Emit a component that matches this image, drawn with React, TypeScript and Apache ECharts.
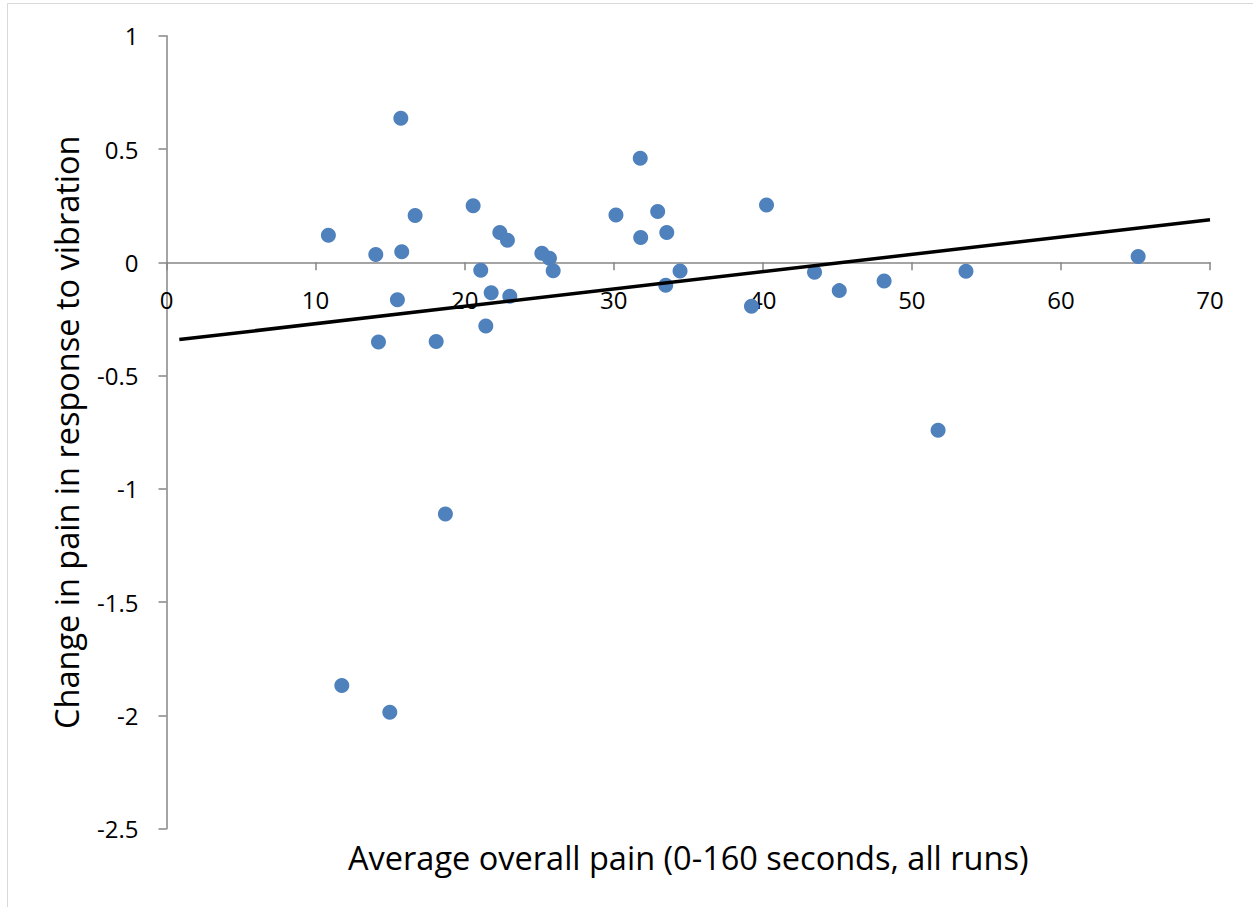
import { useEffect, useRef } from "react";
import * as echarts from "echarts";

// Average overall pain (x) and change in pain in response to vibration (y)
const painX = [
  15.72, 10.86, 14.04, 15.78, 16.68, 20.57, 22.36, 22.87, 25.18, 25.69, 25.94, 21.08,
  15.49, 21.78, 23.03, 14.22, 18.09, 21.42, 18.71, 11.76, 14.98, 31.78, 30.15, 32.95,
  31.81, 33.56, 34.45, 33.49, 40.25, 39.24, 43.47, 45.13, 48.14, 53.63, 51.76, 65.18,
];
const changeY = [
  0.636, 0.119, 0.034, 0.047, 0.207, 0.25, 0.132, 0.097, 0.04, 0.018, -0.037, -0.035,
  -0.165, -0.134, -0.15, -0.352, -0.349, -0.281, -1.111, -1.868, -1.986, 0.459, 0.209, 0.224,
  0.109, 0.132, -0.038, -0.101, 0.253, -0.194, -0.044, -0.125, -0.082, -0.04, -0.741, 0.026,
];
// Linear trendline end points
const trendX = [0.86, 70];
const trendY = [-0.341, 0.188];

const xTitle = "Average overall pain (0-160 seconds, all runs)";
const yTitle = "Change in pain in response to vibration";

export default function App() {
  const ref = useRef<HTMLDivElement>(null);
  useEffect(() => {
    const chart = echarts.init(ref.current!, null, { renderer: "svg" });
    const font = "'Open Sans', sans-serif";
    const axisColor = "#868686";
    const yMin = -2.5;
    const yMax = 1;
    const gridTop = 35.7;
    const gridBottomPx = 828.8;
    // pixel row of y = 0, obtained from the y scale
    const zeroPx = gridTop + ((yMax - 0) / (yMax - yMin)) * (gridBottomPx - gridTop);
    chart.setOption({
      animation: false,
      backgroundColor: "#ffffff",
      grid: [
        {
          left: 166.5,
          right: 43,
          top: gridTop,
          height: gridBottomPx - gridTop,
          containLabel: false,
          outerBoundsMode: "none",
        },
        {
          left: 166.5,
          right: 43,
          top: gridTop,
          height: zeroPx - gridTop,
          containLabel: false,
          outerBoundsMode: "none",
        },
      ],
      xAxis: [
        {
          type: "value",
          gridIndex: 0,
          min: 0,
          max: 70,
          interval: 10,
          name: xTitle,
          nameLocation: "middle",
          nameGap: 12,
          nameTextStyle: { fontFamily: font, fontSize: 32.5, color: "#000" },
          axisLine: { show: false, onZero: false },
          axisTick: { show: false },
          axisLabel: { show: false },
          splitLine: { show: false },
        },
        {
          type: "value",
          gridIndex: 1,
          position: "bottom",
          min: 0,
          max: 70,
          interval: 10,
          axisLine: { show: true, onZero: false, lineStyle: { color: axisColor, width: 1.5 } },
          axisTick: { show: true, length: 8, lineStyle: { color: axisColor, width: 1.5 } },
          axisLabel: { margin: 25, fontFamily: font, fontSize: 24, color: "#000" },
          splitLine: { show: false },
        },
      ],
      yAxis: [
        {
          type: "value",
          gridIndex: 0,
          min: yMin,
          max: yMax,
          interval: 0.5,
          name: yTitle,
          nameLocation: "middle",
          nameGap: 84,
          nameTextStyle: { fontFamily: font, fontSize: 32.5, color: "#000" },
          axisLine: { show: true, onZero: false, lineStyle: { color: axisColor, width: 1.5 } },
          axisTick: { show: true, length: 8, lineStyle: { color: axisColor, width: 1.5 } },
          axisLabel: { margin: 28, fontFamily: font, fontSize: 24, color: "#000" },
          splitLine: { show: false },
        },
        {
          type: "value",
          gridIndex: 1,
          min: 0,
          max: yMax,
          show: false,
        },
      ],
      graphic: [
        {
          type: "rect",
          shape: { x: 7.5, y: 3.5, width: 1400, height: 1000 },
          style: { fill: "none", stroke: "#d9d9d9", lineWidth: 1 },
          silent: true,
        },
      ],
      series: [
        {
          type: "scatter",
          xAxisIndex: 0,
          yAxisIndex: 0,
          data: painX.map((x, i) => [x, changeY[i]]),
          symbol: "circle",
          symbolSize: 15,
          itemStyle: { color: "#4F81BD", opacity: 1 },
          z: 2,
        },
        {
          type: "line",
          xAxisIndex: 0,
          yAxisIndex: 0,
          data: trendX.map((x, i) => [x, trendY[i]]),
          showSymbol: false,
          symbol: "none",
          lineStyle: { color: "#000", width: 3.5 },
          z: 3,
        },
      ],
    });
    return () => chart.dispose();
  }, []);
  return (
    <div
      ref={ref}
      style={{ position: "fixed", left: 0, top: 0, width: 1253, height: 907, background: "#fff" }}
    />
  );
}
